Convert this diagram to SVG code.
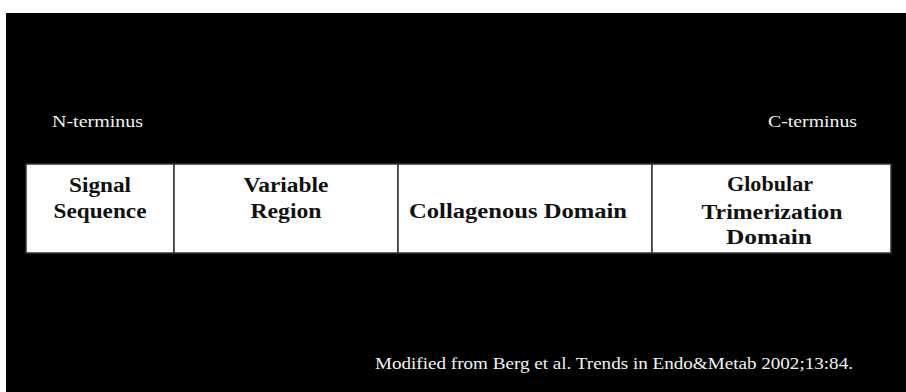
<svg xmlns="http://www.w3.org/2000/svg" width="906" height="392" viewBox="0 0 906 392">
<style>
.lbl{font-family:"Liberation Serif",serif;font-size:17px;fill:#f2f2f2}
.box{font-family:"Liberation Serif",serif;font-size:20px;font-weight:bold;fill:#111;text-anchor:middle}
.cell{fill:#fff;stroke:#333;stroke-width:1.5}
</style>
<rect x="0" y="0" width="906" height="392" fill="#fff"/>
<rect x="6" y="13" width="900" height="379" fill="#000"/>
<text class="lbl" x="52" y="127" textLength="91" lengthAdjust="spacingAndGlyphs">N-terminus</text>
<text class="lbl" x="768" y="127" textLength="89" lengthAdjust="spacingAndGlyphs">C-terminus</text>
<g id="signal">
<rect class="cell" x="26" y="164" width="148" height="89"/>
<text class="box" x="100" y="192" textLength="62" lengthAdjust="spacingAndGlyphs">Signal</text>
<text class="box" x="100" y="218" textLength="93" lengthAdjust="spacingAndGlyphs">Sequence</text>
</g>
<g id="variable">
<rect class="cell" x="174" y="164" width="224" height="89"/>
<text class="box" x="286" y="192" textLength="85" lengthAdjust="spacingAndGlyphs">Variable</text>
<text class="box" x="286" y="218" textLength="71" lengthAdjust="spacingAndGlyphs">Region</text>
</g>
<g id="collagenous">
<rect class="cell" x="398" y="164" width="254" height="89"/>
<text class="box" x="518" y="218" textLength="218" lengthAdjust="spacingAndGlyphs">Collagenous Domain</text>
</g>
<g id="globular">
<rect class="cell" x="652" y="164" width="239" height="89"/>
<text class="box" x="770" y="191" textLength="86" lengthAdjust="spacingAndGlyphs">Globular</text>
<text class="box" x="772" y="219" textLength="141" lengthAdjust="spacingAndGlyphs">Trimerization</text>
<text class="box" x="769" y="244" textLength="86" lengthAdjust="spacingAndGlyphs">Domain</text>
</g>
<g id="connectors"></g>
<text class="lbl" x="375" y="369" textLength="478" lengthAdjust="spacingAndGlyphs">Modified from Berg et al. Trends in Endo&amp;Metab 2002;13:84.</text>
</svg>
